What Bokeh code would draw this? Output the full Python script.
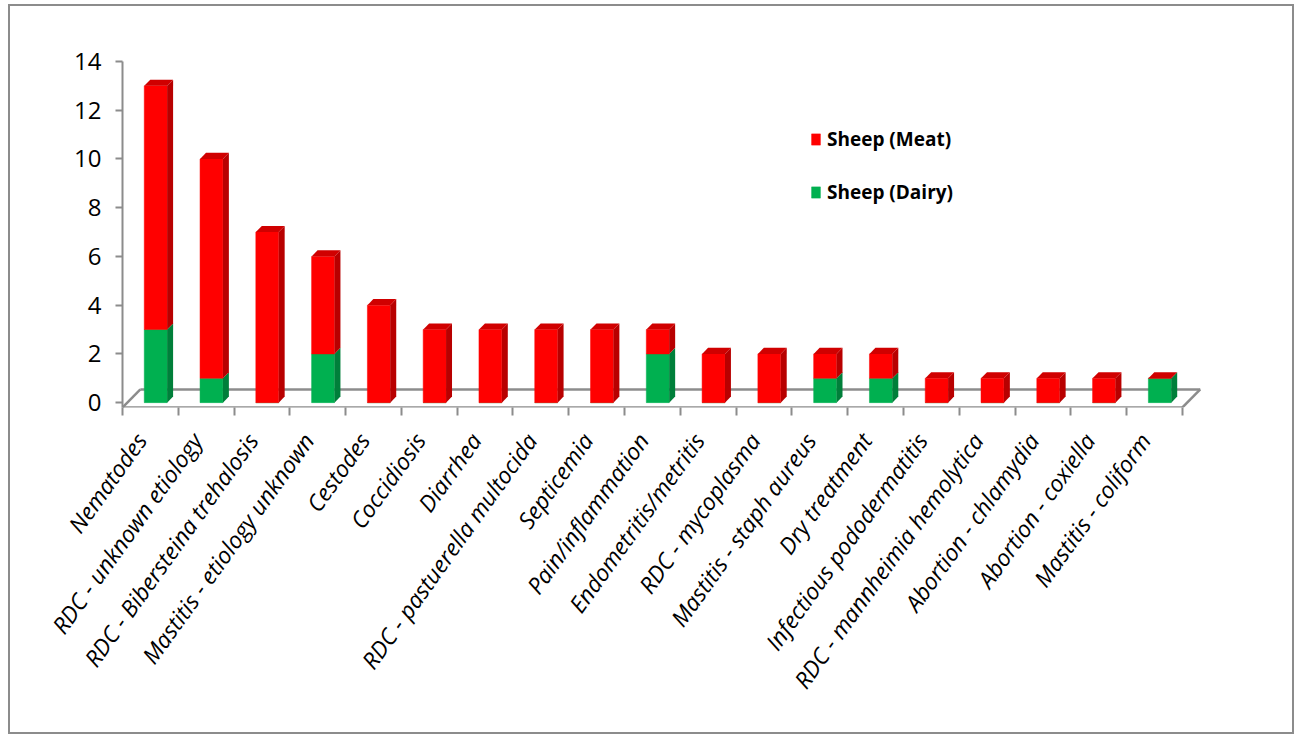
import numpy as np
from bokeh.plotting import figure
from bokeh.models import Range1d, FixedTicker, Legend, LegendItem, ColumnDataSource
from bokeh.embed import file_html
from bokeh.resources import INLINE

categories = [
    "Nematodes", "RDC - unknown etiology", "RDC - Bibersteina trehalosis",
    "Mastitis - etiology unknown", "Cestodes", "Coccidiosis", "Diarrhea",
    "RDC - pastuerella multocida", "Septicemia", "Pain/inflammation",
    "Endometritis/metritis", "RDC - mycoplasma", "Mastitis - staph aureus",
    "Dry treatment", "Infectious pododermatitis", "RDC - mannheimia hemolytica",
    "Abortion - chlamydia", "Abortion - coxiella", "Mastitis - coliform",
]
meat = [10, 9, 7, 4, 4, 3, 3, 3, 3, 1, 2, 2, 1, 1, 1, 1, 1, 1, 0]
dairy = [3, 1, 0, 2, 0, 0, 0, 0, 0, 2, 0, 0, 1, 1, 0, 0, 0, 0, 1]
y_ticks = [0, 2, 4, 6, 8, 10, 12, 14]

RED, RED_SIDE, RED_TOP = "#FF0000", "#B80000", "#D00000"
GREEN, GREEN_SIDE = "#00B050", "#007F3A"
AXIS = "#8C8C8C"
FONT = "Open Sans"

n = len(categories)
idx = np.arange(n)
left = idx + 0.39
right = idx + 0.80
dx, dy = 0.107, 0.25
d = np.array(dairy, float)
tot = d + np.array(meat, float)

p = figure(frame_width=1085, frame_height=346,
           min_border_left=112, min_border_right=85,
           min_border_top=55, min_border_bottom=325,
           x_range=Range1d(0, 19.45), y_range=Range1d(-0.2, 14),
           output_backend="svg", toolbar_location=None)
p.background_fill_color = "white"
p.border_fill_color = "white"
p.outline_line_color = None
p.grid.visible = False
p.styles = {"margin-left": "8px", "margin-top": "4px", "border": "2px solid #8c8c8c"}

# 3D floor
fb, bk = -0.2, 0.54
fx = 0.32
p.multi_line(xs=[[0, n], [fx, n + fx], [0, fx], [n, n + fx]],
             ys=[[fb, fb], [bk, bk], [fb, bk], [fb, bk]],
             line_color=AXIS, line_width=2.5)

src = ColumnDataSource(dict(left=left, right=right, d=d, tot=tot, zero=np.zeros(n)))
g_front = p.quad(left="left", right="right", bottom="zero", top="d", source=src,
                 fill_color=GREEN, line_color=GREEN, line_width=0.5)
p.patches(xs=[[r, r + dx, r + dx, r] for r in right],
          ys=[[0, dy, v + dy, v] for v in d],
          fill_color=GREEN_SIDE, line_color=None)
r_front = p.quad(left="left", right="right", bottom="d", top="tot", source=src,
                 fill_color=RED, line_color=RED, line_width=0.5)
p.patches(xs=[[r, r + dx, r + dx, r] for r in right],
          ys=[[b, b + dy, t + dy, t] for b, t in zip(d, tot)],
          fill_color=RED_SIDE, line_color=None)
p.patches(xs=[[l, r, r + dx, l + dx] for l, r in zip(left, right)],
          ys=[[t, t, t + dy, t + dy] for t in tot],
          fill_color=RED_TOP, line_color=None)

# x axis
label_pos = idx + 0.33
xa = p.xaxis[0]
xa.ticker = FixedTicker(ticks=list(label_pos), minor_ticks=list(range(n + 1)))
xa.major_label_overrides = {float(x): c for x, c in zip(label_pos, categories)}
xa.major_label_orientation = 0.95
xa.major_tick_line_color = None
xa.minor_tick_line_color = AXIS
xa.minor_tick_line_width = 2
xa.minor_tick_out = 8
xa.minor_tick_in = 0
xa.axis_line_color = None
xa.major_label_standoff = 20
xa.major_label_text_font = FONT
xa.major_label_text_font_style = "italic"
xa.major_label_text_font_size = "23px"
xa.major_label_text_color = "black"

ya = p.yaxis[0]
ya.ticker = FixedTicker(ticks=y_ticks)
ya.axis_line_color = AXIS
ya.axis_line_width = 2
ya.major_tick_line_color = AXIS
ya.major_tick_line_width = 2
ya.major_tick_out = 7
ya.major_tick_in = 0
ya.minor_tick_line_color = None
ya.major_label_standoff = 14
ya.major_label_text_font = FONT
ya.major_label_text_font_size = "24px"
ya.major_label_text_color = "black"

legend = Legend(items=[LegendItem(label="Sheep (Meat)", renderers=[r_front]),
                       LegendItem(label="Sheep (Dairy)", renderers=[g_front])],
                location=(688, 202), orientation="vertical",
                glyph_width=11, glyph_height=14, label_height=20,
                spacing=27, padding=0, margin=0, label_standoff=6,
                border_line_color=None, background_fill_alpha=0,
                label_text_font=FONT, label_text_font_size="19px",
                label_text_font_style="bold", label_text_color="black")
p.add_layout(legend)

open("out.html", "w").write(file_html(p, INLINE))
